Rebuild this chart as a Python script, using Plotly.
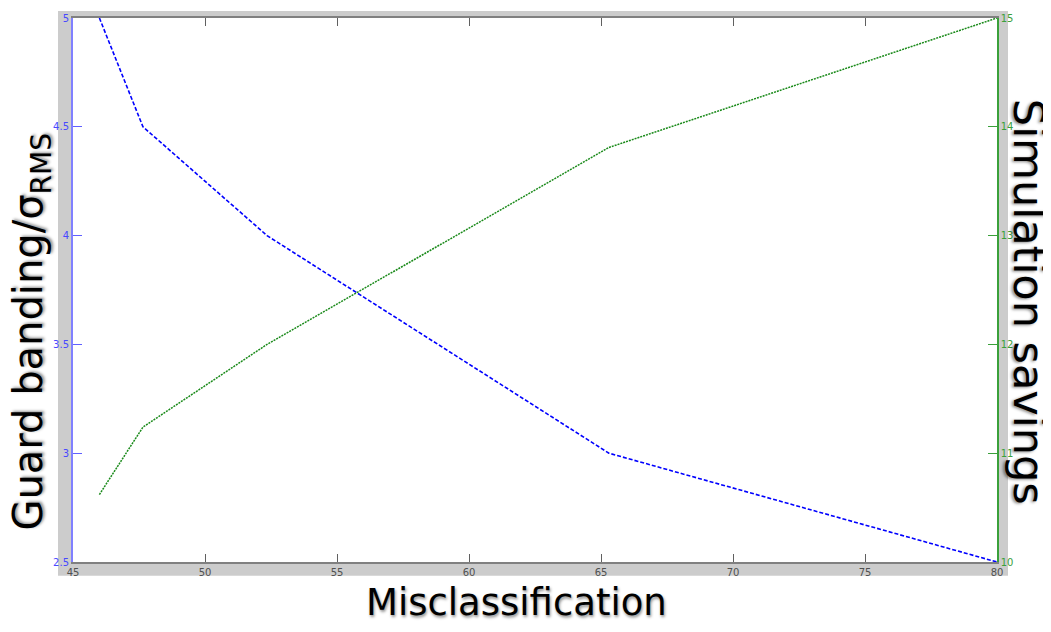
import plotly.graph_objects as go

# Data
misclassification = [46.0, 47.65, 52.35, 65.3, 80.0]
guard_banding = [5.0, 4.5, 4.0, 3.0, 2.5]
simulation_savings = [10.62, 11.24, 12.0, 13.81, 15.0]

x_ticks = [45, 50, 55, 60, 65, 70, 75, 80]
left_ticks = [2.5, 3, 3.5, 4, 4.5, 5]
right_ticks = [10, 11, 12, 13, 14, 15]

# The page body has an 8px default margin, so the figure is offset by 8px.
OFF = 8
W, H = 1043, 616
L, T = 73 - OFF, 12 - OFF
R = W - (997 - OFF)
B = H - (562 - OFF)
pw, ph = W - L - R, H - T - B

def px_x(p):
    return (p - OFF - L) / pw

def px_y(p):
    return (H - B - (p - OFF)) / ph

fig = go.Figure()
fig.add_trace(go.Scatter(
    x=misclassification, y=guard_banding, mode="lines",
    line=dict(color="#0000ff", width=1.6, dash="4px,2px"),
    yaxis="y", showlegend=False, cliponaxis=False,
))
fig.add_trace(go.Scatter(
    x=misclassification, y=simulation_savings, mode="lines",
    line=dict(color="#1a8a1a", width=1.5, dash="2px,1px"),
    yaxis="y2", showlegend=False, cliponaxis=False,
))

grey = "#cccccc"
gx0, gx1 = px_x(58), px_x(1008)
gy0, gy1 = px_y(576), px_y(5)
shapes = [
    dict(type="rect", xref="paper", yref="paper", x0=gx0, x1=0, y0=gy0, y1=gy1),
    dict(type="rect", xref="paper", yref="paper", x0=1, x1=gx1, y0=gy0, y1=gy1),
    dict(type="rect", xref="paper", yref="paper", x0=0, x1=1, y0=gy0, y1=0),
    dict(type="rect", xref="paper", yref="paper", x0=0, x1=1, y0=1, y1=gy1),
]
for s in shapes:
    s.update(fillcolor=grey, line=dict(width=0), layer="below")

shadow = "1px 2px 3px rgba(0,0,0,0.45)"

def tfont(size):
    return dict(family="DejaVu Sans", size=size, color="black", shadow=shadow)

annotations = [
    dict(text="Misclassification", x=px_x(516), y=px_y(603), xref="paper", yref="paper",
         showarrow=False, font=tfont(37), xanchor="center", yanchor="middle"),
    dict(text="Guard banding/σ<sub>RMS</sub>", x=px_x(31), y=px_y(330), xref="paper", yref="paper",
         showarrow=False, font=tfont(40), textangle=-90, xanchor="center", yanchor="middle"),
    dict(text="Simulation savings", x=px_x(1029), y=px_y(299), xref="paper", yref="paper",
         showarrow=False, font=tfont(43), textangle=90, xanchor="center", yanchor="middle"),
]

tick_font = dict(family="DejaVu Sans", size=10)

fig.update_layout(
    width=W, height=H,
    margin=dict(l=L, r=R, t=T, b=B, pad=0),
    paper_bgcolor="white", plot_bgcolor="white",
    shapes=shapes, annotations=annotations,
    xaxis=dict(
        range=[45, 80], tickvals=x_ticks, ticktext=[str(v) for v in x_ticks],
        showgrid=False, zeroline=False,
        showline=True, linecolor="#808080", linewidth=2, mirror="ticks",
        ticks="inside", ticklen=8, tickcolor="#606060", tickwidth=1,
        tickfont=dict(tick_font, color="#505050"),
    ),
    yaxis=dict(
        range=[2.5, 5], tickvals=left_ticks, ticktext=[("%g" % v) for v in left_ticks],
        showgrid=False, zeroline=False,
        showline=True, linecolor="#8080ff", linewidth=2,
        ticks="inside", ticklen=9, tickcolor="#6060ff", tickwidth=1,
        tickfont=dict(tick_font, color="#4848ff"),
    ),
    yaxis2=dict(
        range=[10, 15], tickvals=right_ticks, ticktext=[str(v) for v in right_ticks],
        overlaying="y", side="right",
        showgrid=False, zeroline=False,
        showline=True, linecolor="#3aa03a", linewidth=1.5,
        ticks="inside", ticklen=9, tickcolor="#3aa03a", tickwidth=1,
        tickfont=dict(tick_font, color="#3aa03a"),
    ),
)

fig.write_html("out.html")
